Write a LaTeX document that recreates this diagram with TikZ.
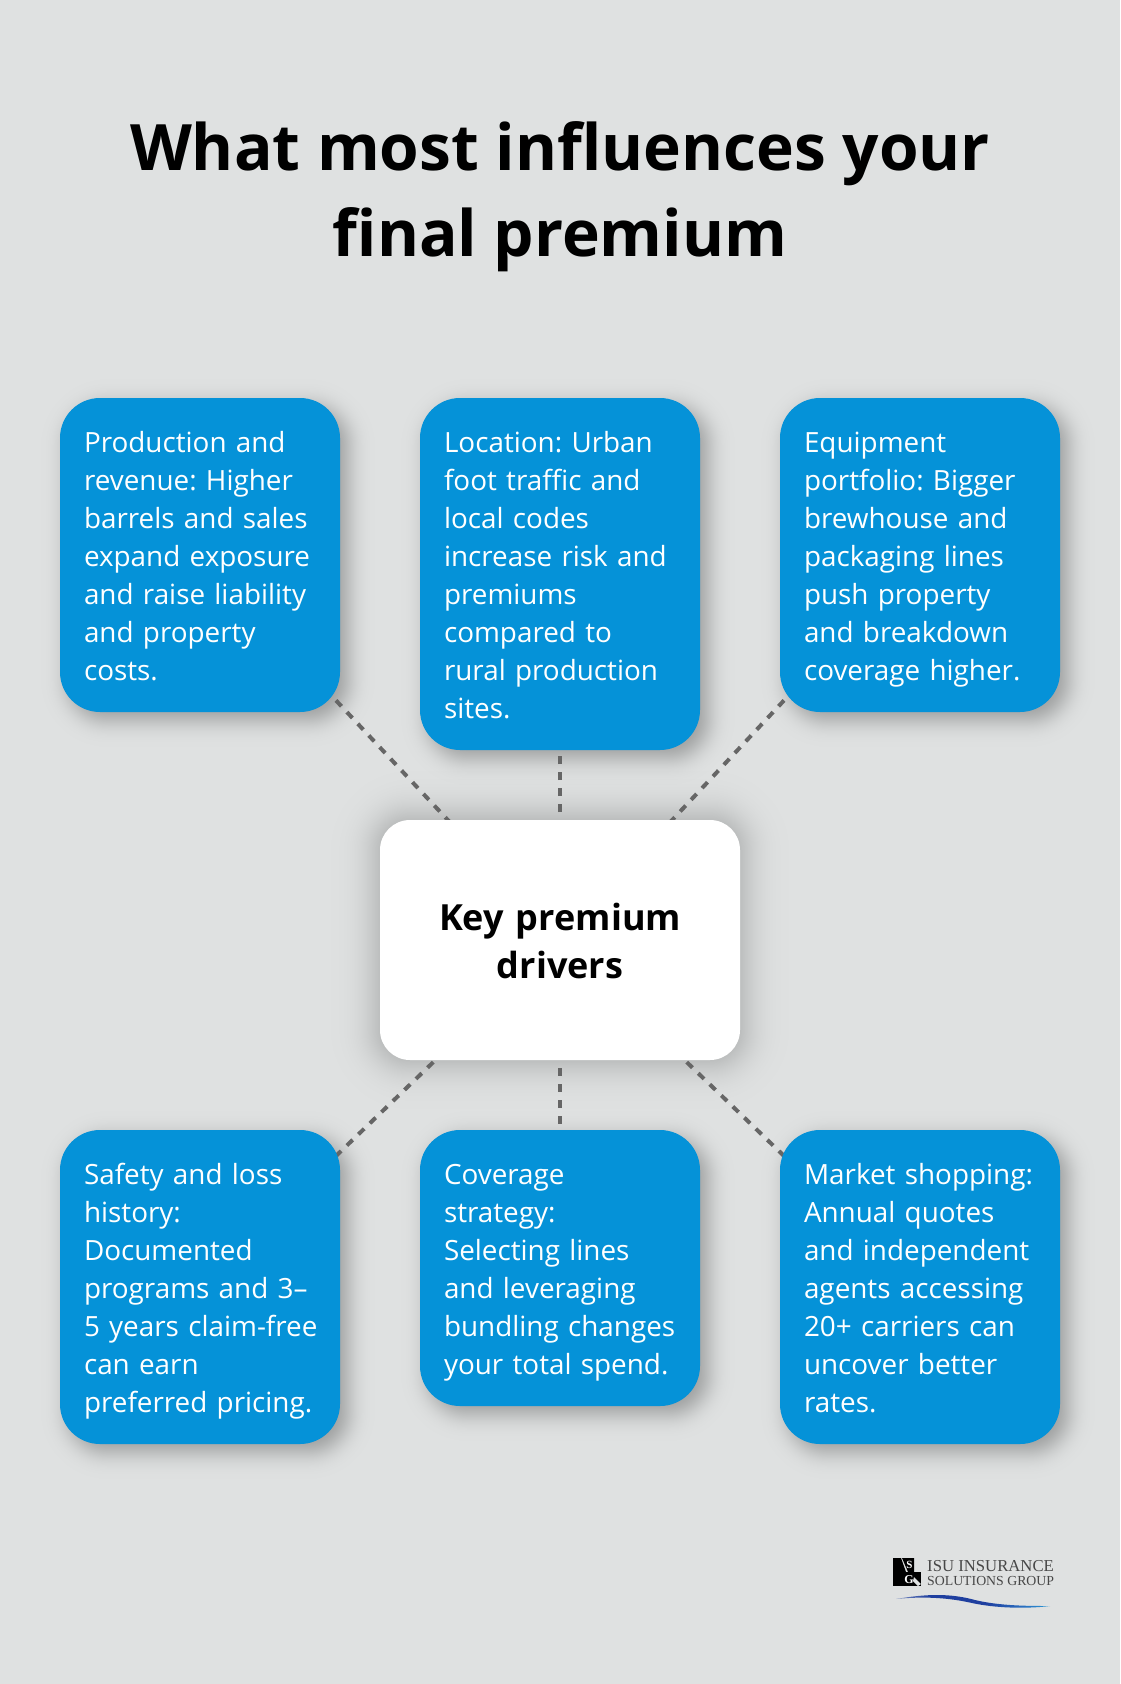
\documentclass[tikz,border=0pt]{standalone}
\usepackage{fontspec}
\setmainfont{Open Sans}
\newfontfamily\logofont{Liberation Serif}
\usetikzlibrary{calc}
\definecolor{pagebg}{HTML}{DFE1E1}
\definecolor{boxblue}{HTML}{0592D8}
\definecolor{linegray}{HTML}{666666}
\definecolor{swa}{HTML}{1F3F9F}
\definecolor{swb}{HTML}{2A6FC0}
\definecolor{swc}{HTML}{2AA5DC}
\pgfdeclarelayer{bgl}\pgfdeclarelayer{shadowl}\pgfdeclarelayer{connl}
\pgfsetlayers{bgl,shadowl,connl,main}
\pgfdeclarehorizontalshading{swoosh}{100bp}{color(0bp)=(pagebg); color(22bp)=(pagebg!60!swa); color(36bp)=(swa); color(54bp)=(swa); color(66bp)=(swb); color(78bp)=(swc); color(88bp)=(swc!70!pagebg); color(100bp)=(pagebg)}
\newcommand\ls{\vrule width0pt height30pt depth8pt\relax}
\newcommand\softshadow[9]{% x0 y0 x1 y1 radius dx dy sigma alpha
  \begin{pgfonlayer}{shadowl}
  \pgfmathsetmacro\shop{1-(1-#9)^(1/70)}
  \foreach \i in {1,...,70}{
    \pgfmathsetmacro\p{(\i-.5)/70}
    \pgfmathsetmacro\e{#8*(pow(\p,.135)-pow(1-\p,.135))/.1975}
    \pgfmathsetmacro\rr{max(#5+\e,1)}
    \fill[black,fill opacity=\shop,rounded corners=\rr pt]
      ({#1+#6-\e},{#2+#7-\e}) rectangle ({#3+#6+\e},{#4+#7+\e});
  }
  \end{pgfonlayer}}
\tikzset{
  x=1pt,y=-1pt,
  bluebox/.style={rectangle,fill=boxblue,rounded corners=40pt,inner sep=0pt,minimum width=280pt,text width=232pt,align=left,text=white,font=\fontsize{27.85}{38}\selectfont\frenchspacing},
  centerbox/.style={rectangle,fill=white,rounded corners=30pt,inner sep=0pt,minimum width=360pt,minimum height=240pt,text width=300pt,align=center,text=black,font=\fontsize{36}{48.5}\selectfont\bfseries},
  titletext/.style={inner sep=0pt,align=center,text=black,font=\fontsize{64}{86}\selectfont\bfseries},
  dashline/.style={draw=linegray,line width=4pt,dash pattern=on 8pt off 8pt},
  logotext/.style={inner sep=0pt,anchor=base west,text=black!72,font=\logofont},
}
\begin{document}
\begin{tikzpicture}
\begin{pgfonlayer}{bgl}
\fill[pagebg] (0,0) rectangle (1120,1684);
\end{pgfonlayer}
\useasboundingbox (0,0) rectangle (1120,1684);

\node[titletext] (title) at (560,196.7) {What most influences your\\final premium};

\node[bluebox,minimum height=314pt] (a) at (200,555) {\ls Production and\\revenue: Higher\\barrels and sales\\expand exposure\\and raise liability\\and property\\costs.\ls};
\node[bluebox,minimum height=352pt] (b) at (560,574) {\ls Location: Urban\\foot traffic and\\local codes\\increase risk and\\premiums\\compared to\\rural production\\sites.\ls};
\node[bluebox,minimum height=314pt] (c) at (920,555) {\ls Equipment\\portfolio: Bigger\\brewhouse and\\packaging lines\\push property\\and breakdown\\coverage higher.\ls};
\node[centerbox] (k) at (560,940) {\vrule width0pt height38.5pt depth0pt\relax Key premium\\drivers\vrule width0pt height0pt depth10pt\relax};
\node[bluebox,minimum height=314pt] (d) at (200,1287) {\ls Safety and loss\\history:\\Documented\\programs and 3–\\\mbox{5 years claim-free}\\can earn\\\mbox{preferred pricing.}\ls};
\node[bluebox,minimum height=276pt] (e) at (560,1268) {\ls Coverage\\strategy:\\Selecting lines\\and leveraging\\\mbox{bundling changes}\\\mbox{your total spend.}\ls};
\node[bluebox,minimum height=314pt] (f) at (920,1287) {\ls \mbox{Market shopping:}\\Annual quotes\\and independent\\agents accessing\\20+ carriers can\\uncover better\\rates.\ls};

\softshadow{60}{398}{340}{712}{40}{8}{8}{11}{.34}
\softshadow{420}{398}{700}{750}{40}{8}{8}{11}{.34}
\softshadow{780}{398}{1060}{712}{40}{8}{8}{11}{.34}
\softshadow{60}{1130}{340}{1444}{40}{8}{8}{11}{.34}
\softshadow{420}{1130}{700}{1406}{40}{8}{8}{11}{.34}
\softshadow{780}{1130}{1060}{1444}{40}{8}{8}{11}{.34}
\softshadow{380}{820}{740}{1060}{30}{0}{0}{20}{.26}

\begin{pgfonlayer}{connl}
\foreach \t in {a,b,c,d,e,f}{\draw[dashline] (k.center) -- (\t.center);}
\end{pgfonlayer}

% logo
\node[logotext,font=\logofont\fontsize{16.7}{17}\selectfont] (l1) at (927,1571) {ISU INSURANCE};
\node[logotext,font=\logofont\fontsize{13.8}{14}\selectfont] (l2) at (927,1585) {SOLUTIONS GROUP};
\fill[black] (893,1558) rectangle (899,1586);
\fill[black] (899,1572) rectangle (921,1586);
\fill[black] (902,1558) -- (914,1558) -- (914,1572) -- (908,1572) -- cycle;
\fill[black] (899,1558) -- (901,1558) -- (906,1572) -- (899,1572) -- cycle;
\node[inner sep=0pt,text=white,font=\logofont\bfseries\fontsize{11}{11}\selectfont] (ls) at (909.5,1565) {S};
\node[inner sep=0pt,text=white,font=\logofont\bfseries\fontsize{12}{12}\selectfont] (lg) at (909,1579.5) {G};
\fill[pagebg] (914,1577) -- (921,1584) -- (918,1586) -- (913,1581) -- cycle;
\shade[shading=swoosh] (896,1599) .. controls (925,1594) and (950,1593) .. (975,1600) .. controls (1000,1606) and (1030,1606) .. (1050,1606) .. controls (1025,1609) and (995,1608) .. (972,1603) .. controls (950,1598) and (925,1596) .. (896,1599) -- cycle;
\end{tikzpicture}
\end{document}
